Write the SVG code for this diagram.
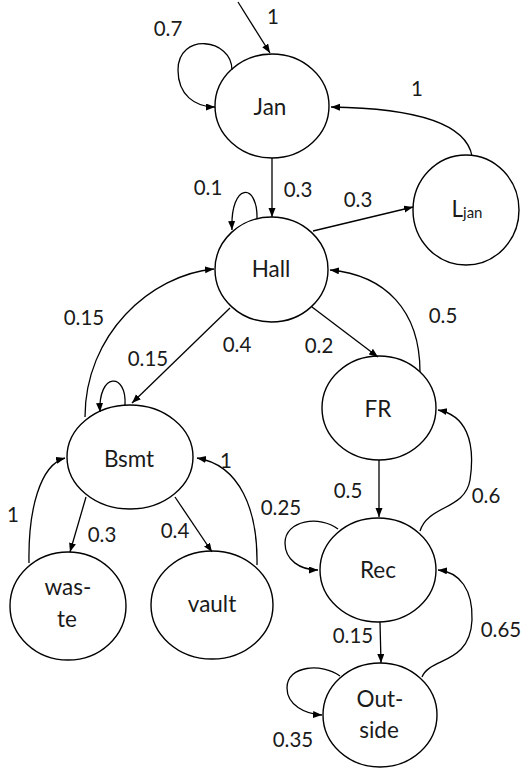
<svg xmlns="http://www.w3.org/2000/svg" width="521" height="771" viewBox="0 0 521 771">
  <defs>
    <marker id="arrow" markerUnits="userSpaceOnUse" markerWidth="10" markerHeight="8" refX="9" refY="3.5" orient="auto">
      <path d="M0,0 L9,3.5 L0,7 z" fill="#000"/>
    </marker>
    <style>
      .node ellipse { fill: #fff; stroke: #000; stroke-width: 1.4; }
      .node text { font-family: Lato, "Open Sans", sans-serif; font-size: 22.5px; fill: #1a1a1a; text-anchor: middle; }
      #edges path, #edges line { fill: none; stroke: #000; stroke-width: 1.3; marker-end: url(#arrow); }
      #labels text { font-family: Lato, "Open Sans", sans-serif; font-size: 20.5px; fill: #1a1a1a; text-anchor: middle; }
    </style>
  </defs>
  <rect width="521" height="771" fill="#fff"/>

  <!-- states -->
  <g id="jan" class="node">
    <ellipse cx="272" cy="106" rx="57" ry="52"/>
    <text x="270" y="115">Jan</text>
  </g>
  <g id="ljan" class="node">
    <ellipse cx="466" cy="210" rx="53" ry="55"/>
    <text x="467" y="217"><tspan>L</tspan><tspan font-size="15px" dy="1">jan</tspan></text>
  </g>
  <g id="hall" class="node">
    <ellipse cx="271.5" cy="269.5" rx="56.5" ry="52.5"/>
    <text x="271" y="277">Hall</text>
  </g>
  <g id="bsmt" class="node">
    <ellipse cx="130" cy="457" rx="63" ry="52"/>
    <text x="129" y="467">Bsmt</text>
  </g>
  <g id="waste" class="node">
    <ellipse cx="68" cy="606" rx="58" ry="54"/>
    <text x="68" y="595">was-</text>
    <text x="67" y="627">te</text>
  </g>
  <g id="vault" class="node">
    <ellipse cx="212" cy="605" rx="61" ry="54"/>
    <text x="212" y="612">vault</text>
  </g>
  <g id="fr" class="node">
    <ellipse cx="379" cy="408" rx="57" ry="52"/>
    <text x="378" y="417">FR</text>
  </g>
  <g id="rec" class="node">
    <ellipse cx="378" cy="570" rx="58" ry="52"/>
    <text x="378" y="578">Rec</text>
  </g>
  <g id="outside" class="node">
    <ellipse cx="380" cy="715" rx="57" ry="52"/>
    <text x="380" y="707">Out-</text>
    <text x="379" y="738">side</text>
  </g>

  <!-- transitions -->
  <g id="edges">
    <line x1="238" y1="2" x2="270" y2="53"/>
    <path d="M232,70 C232,38 178,32 178,70 C178,95 195,107 215,107"/>
    <path d="M472,156 C465,118 400,108 331,107"/>
    <line x1="272" y1="158" x2="272" y2="217"/>
    <path d="M257,219 C258,182 230,182 232,230"/>
    <line x1="313" y1="231" x2="413" y2="207"/>
    <path d="M85,417 C85,335 150,275 214,269"/>
    <line x1="230" y1="308" x2="132" y2="403"/>
    <path d="M125,405 C127,372 98,372 100,412"/>
    <line x1="86" y1="497" x2="70" y2="552"/>
    <path d="M29,563 C28,510 40,465 65,458"/>
    <line x1="175" y1="497" x2="212" y2="552"/>
    <path d="M257,565 C258,510 240,465 197,458"/>
    <line x1="312" y1="307" x2="378" y2="357"/>
    <path d="M420,372 C420,310 385,275 330,270"/>
    <line x1="379" y1="460" x2="379" y2="517"/>
    <path d="M338,529 C320,515 285,520 285,543 C285,560 300,570 318,570"/>
    <path d="M420,531 C428,505 465,510 470,480 C476,440 465,415 438,410"/>
    <line x1="380" y1="622" x2="381" y2="663"/>
    <path d="M340,676 C322,663 287,665 287,688 C287,705 305,714 322,715"/>
    <path d="M422,677 C430,657 470,665 472,620 C473,590 460,572 438,570"/>
  </g>

  <!-- transition probabilities -->
  <g id="labels">
    <text x="273" y="24">1</text>
    <text x="168" y="36">0.7</text>
    <text x="417" y="96">1</text>
    <text x="208" y="195">0.1</text>
    <text x="298" y="197">0.3</text>
    <text x="358" y="207">0.3</text>
    <text x="84" y="325">0.15</text>
    <text x="237" y="352">0.4</text>
    <text x="148" y="366">0.15</text>
    <text x="319" y="353">0.2</text>
    <text x="443" y="323">0.5</text>
    <text x="13" y="522">1</text>
    <text x="102" y="542">0.3</text>
    <text x="175" y="538">0.4</text>
    <text x="226" y="468">1</text>
    <text x="281" y="515">0.25</text>
    <text x="348" y="498">0.5</text>
    <text x="486" y="503">0.6</text>
    <text x="353" y="643">0.15</text>
    <text x="501" y="637">0.65</text>
    <text x="293" y="747">0.35</text>
  </g>
</svg>
